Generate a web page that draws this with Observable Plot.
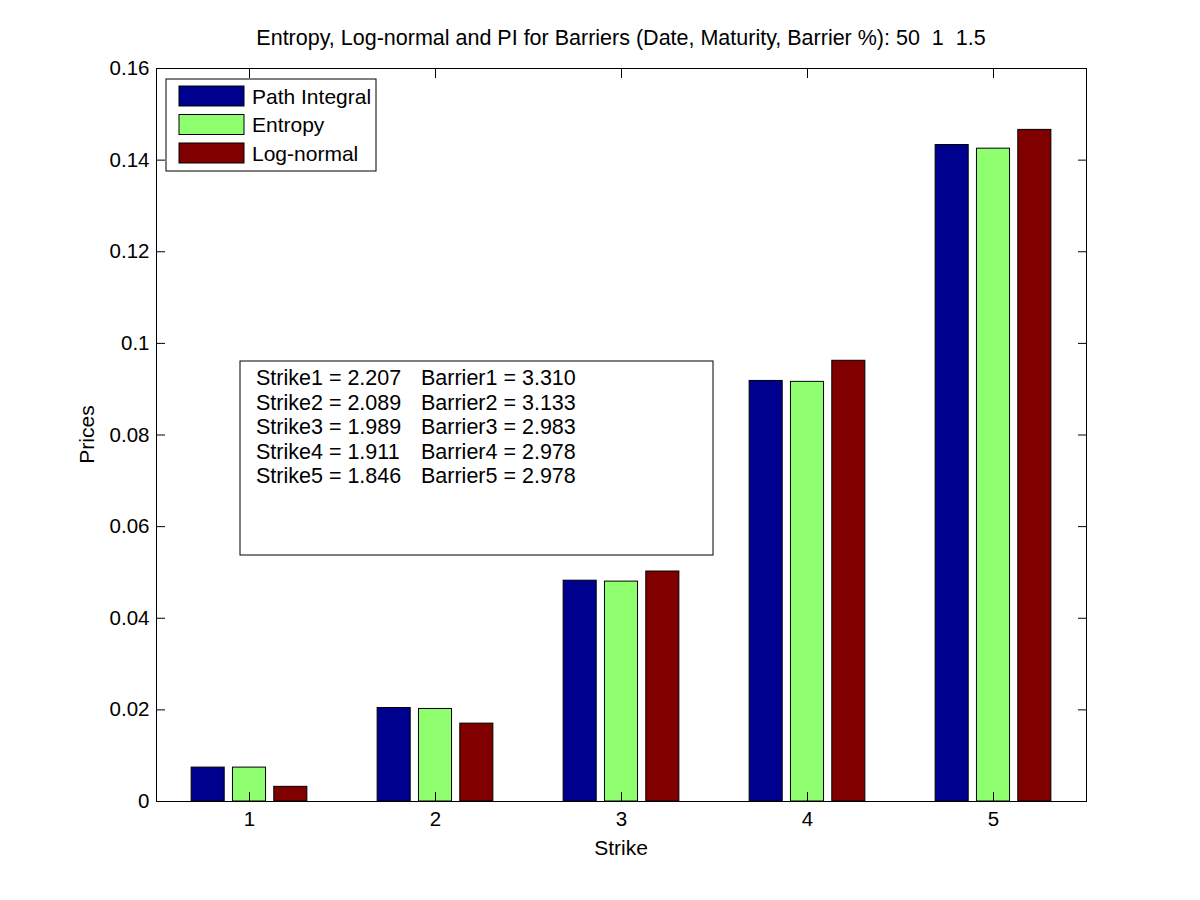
<!DOCTYPE html>
<html><head><meta charset="utf-8">
<script src="https://cdn.jsdelivr.net/npm/d3@7"></script>
<script src="https://cdn.jsdelivr.net/npm/@observablehq/plot@0.6"></script>
<style>
body{margin:0;background:#fff;}
#chart{position:relative;width:1200px;height:900px;}
svg text{font-family:"Liberation Sans",Arial,Helvetica,sans-serif;}
</style>
</head><body><div id="chart"></div>
<script>
// ---- data ----
const strikes = [1, 2, 3, 4, 5];
const seriesNames = ["Path Integral", "Entropy", "Log-normal"];
const seriesColors = ["#00008F", "#8FFF70", "#800000"];
const pathIntegral = [0.0074, 0.0204, 0.0482, 0.0918, 0.1433];
const entropy      = [0.0074, 0.0202, 0.0480, 0.0916, 0.1425];
const logNormal    = [0.0032, 0.0170, 0.0502, 0.0962, 0.1466];
const yTicks = [0, 0.02, 0.04, 0.06, 0.08, 0.1, 0.12, 0.14, 0.16];
const xTicks = [1, 2, 3, 4, 5];
const strikeValues  = ["2.207", "2.089", "1.989", "1.911", "1.846"];
const barrierValues = ["3.310", "3.133", "2.983", "2.978", "2.978"];
const titleText = "Entropy, Log-normal and PI for Barriers (Date, Maturity, Barrier %): 50  1  1.5";
const xLabel = "Strike";
const yLabel = "Prices";

// ---- table ----
const seriesValues = [pathIntegral, entropy, logNormal];
const groupWidth = 2 / 3;            // MATLAB grouped bar layout
const step = groupWidth / 3;
const barW = step * 0.8;
const rows = [];
seriesValues.forEach((vals, si) => {
  vals.forEach((v, i) => {
    const c = strikes[i] + (si - 1) * step;
    rows.push({series: seriesNames[si], strike: strikes[i], x1: c - barW / 2, x2: c + barW / 2, value: v});
  });
});

const FS = 20.5;
const FT = 21.5;
const ML = 156, MR = 114, MT = 68, MB = 99;
const fmt = d => String(+d.toFixed(2));

const plot = Plot.plot({
  width: 1200,
  height: 900,
  marginLeft: ML, marginRight: MR, marginTop: MT, marginBottom: MB,
  style: {fontFamily: '"Liberation Sans", Arial, sans-serif', fontSize: FS + "px", background: "#fff", color: "#000"},
  x: {domain: [0.5, 5.5]},
  y: {domain: [0, 0.16]},
  color: {domain: seriesNames, range: seriesColors},
  marks: [
    Plot.rect(rows, {x1: "x1", x2: "x2", y1: 0, y2: "value", fill: "series", stroke: "#000", strokeWidth: 1}),
    Plot.frame({stroke: "#000", strokeWidth: 1}),
    Plot.axisY({anchor: "left", ticks: yTicks, tickSize: -9, tickPadding: 16, tickFormat: fmt, label: null, fontSize: FS}),
    Plot.axisY({anchor: "right", ticks: yTicks, tickSize: -9, text: null, label: null}),
    Plot.axisX({anchor: "bottom", ticks: xTicks, tickSize: -9, tickPadding: 19, tickFormat: d => String(d), label: null, fontSize: FS}),
    Plot.axisX({anchor: "top", ticks: xTicks, tickSize: -9, text: null, label: null})
  ]
});
document.getElementById("chart").appendChild(plot);

// ---- annotations in pixel layout ----
const svg = d3.select(plot);
const cx = ML + (1200 - ML - MR) / 2;
svg.append("text").attr("x", cx).attr("y", 45).attr("text-anchor", "middle")
  .attr("font-size", FT).style("white-space", "pre").text(titleText);
svg.append("text").attr("x", cx).attr("y", 855).attr("text-anchor", "middle")
  .attr("font-size", 21).text(xLabel);
svg.append("text").attr("transform", `translate(94,${MT + (900 - MT - MB) / 2}) rotate(-90)`)
  .attr("text-anchor", "middle").attr("font-size", 21).text(yLabel);

// legend
const lg = svg.append("g");
lg.append("rect").attr("x", 166).attr("y", 79).attr("width", 210).attr("height", 92)
  .attr("fill", "#fff").attr("stroke", "#000");
seriesNames.forEach((n, i) => {
  const yy = 86 + i * 28.5;
  lg.append("rect").attr("x", 179).attr("y", yy).attr("width", 65).attr("height", 20)
    .attr("fill", seriesColors[i]).attr("stroke", "#000");
  lg.append("text").attr("x", 252).attr("y", yy + 17.5).attr("font-size", 21)
    .attr("text-anchor", "start").text(n);
});

// text box
const tb = svg.append("g");
tb.append("rect").attr("x", 240).attr("y", 361).attr("width", 473).attr("height", 194)
  .attr("fill", "#fff").attr("stroke", "#000");
strikeValues.forEach((s, i) => {
  const yy = 385 + i * 24.6;
  tb.append("text").attr("x", 256).attr("y", yy).attr("font-size", FT)
    .attr("text-anchor", "start").text(`Strike${i + 1} = ${s}`);
  tb.append("text").attr("x", 421).attr("y", yy).attr("font-size", FT)
    .attr("text-anchor", "start").text(`Barrier${i + 1} = ${barrierValues[i]}`);
});
</script>
</body></html>
